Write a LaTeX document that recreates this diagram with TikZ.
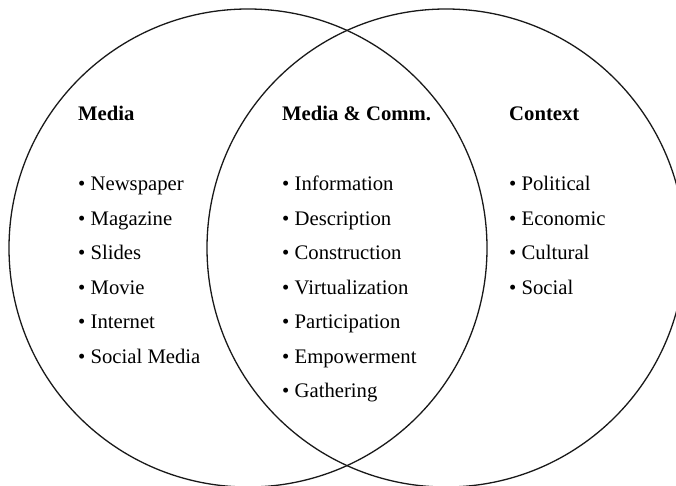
\documentclass[tikz,border=0pt]{standalone}
\usepackage{fontspec}
\setmainfont{Liberation Serif}
\begin{document}
\begin{tikzpicture}[x=1pt,y=-1pt,
  ring/.style={draw=black!90,line width=1.3pt},
  head/.style={anchor=base west,inner sep=0pt,font=\fontsize{20.7}{24}\selectfont\bfseries},
  item/.style={anchor=base west,inner sep=0pt,font=\fontsize{20.7}{24}\selectfont}]
\useasboundingbox (0,0) rectangle (676,485);
\begin{scope}
\clip (0,0) rectangle (676,485);
\draw[ring] (248,248) circle[radius=239];
\draw[ring] (446,248) circle[radius=239];
\end{scope}
% headings
\node[head] (hm) at (78,120) {Media};
\node[head] (hc) at (282,120) {Media \& Comm.};
\node[head] (hx) at (509,120) {Context};
% Media column
\foreach \t [count=\i] in {Newspaper,Magazine,Slides,Movie,Internet,Social Media}
  \node[item] (m\i) at (78,{190.5+34.5*(\i-1)}) {\textbullet\ \t};
% Media & Comm. column
\foreach \t [count=\i] in {Information,Description,Construction,Virtualization,Participation,Empowerment,Gathering}
  \node[item] (c\i) at (282,{190.5+34.5*(\i-1)}) {\textbullet\ \t};
% Context column
\foreach \t [count=\i] in {Political,Economic,Cultural,Social}
  \node[item] (x\i) at (509,{190.5+34.5*(\i-1)}) {\textbullet\ \t};
\end{tikzpicture}
\end{document}
